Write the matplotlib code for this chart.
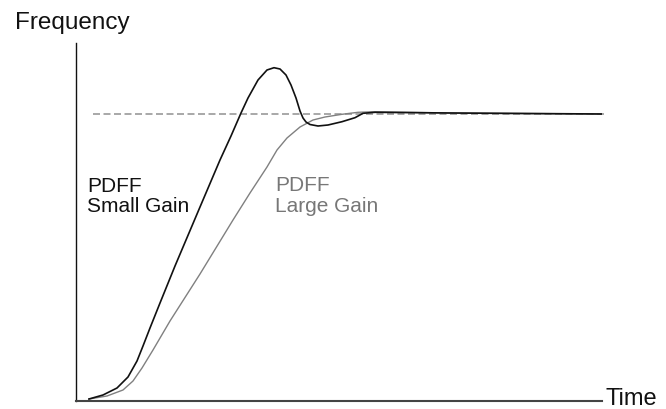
import matplotlib
matplotlib.use('Agg')
import matplotlib.pyplot as plt

plt.rcParams['font.family'] = ['Liberation Sans', 'DejaVu Sans']

# PDFF small gain (black) - time vs frequency
time_small = [89, 103, 117, 128, 137, 143, 150, 160, 175, 200, 220, 231, 241, 248, 258, 267, 274,
              280, 286, 291, 296, 300, 303, 306, 310, 318, 328, 342, 355, 363, 375, 450, 602]
freq_small = [2, 6, 13, 24, 40, 55, 73, 98, 135, 194, 241, 265, 288, 303, 321, 331, 333.3,
              332, 326, 316, 303, 290, 283, 279, 276.5, 275, 276, 279.3, 283.3, 287.7, 288.7, 288, 287]

# PDFF large gain (gray)
time_large = [89, 107, 123, 133, 142, 153, 170, 200, 233, 250, 267, 277, 287, 300, 313, 325,
              342, 358, 375, 450, 602]
freq_large = [2, 5, 11, 20, 33, 51, 80, 127, 181, 208, 234, 251, 263, 274, 281, 284,
              286.7, 288.7, 289.3, 288, 287]

# target frequency (dashed)
target_time = [93, 606]
target_freq = [287, 287]

fig = plt.figure(figsize=(6.66, 4.09), dpi=100)
ax = fig.add_axes([76/666, 8/409, 526/666, 358/409])

ax.plot(target_time, target_freq, color='#999999', lw=1.2, dashes=(4.2, 2.1), clip_on=False)
ax.plot(time_large, freq_large, color='#808080', lw=1.0)
ax.plot(time_small, freq_small, color='#111111', lw=1.2)

ax.set_xlim(76, 602)
ax.set_ylim(0, 358)
ax.spines['top'].set_visible(False)
ax.spines['right'].set_visible(False)
ax.spines['left'].set_color('#111111')
ax.spines['left'].set_linewidth(1.0)
ax.spines['bottom'].set_color('#444444')
ax.spines['bottom'].set_linewidth(1.5)
ax.set_xticks([])
ax.set_yticks([])

ax.text(87, 224, 'PDFF\nSmall Gain', fontsize=15, color='#111111', va='top', ha='left', linespacing=1.1)
ax.text(275, 225, 'PDFF\nLarge Gain', fontsize=15, color='#777777', va='top', ha='left', linespacing=1.1)
ax.text(606, -4, 'Time', fontsize=17, color='#111111', va='baseline', ha='left', clip_on=False)
ax.text(15, 372, 'Frequency', fontsize=17.5, color='#111111', va='baseline', ha='left', clip_on=False)

fig.savefig('out.png', dpi=100)
